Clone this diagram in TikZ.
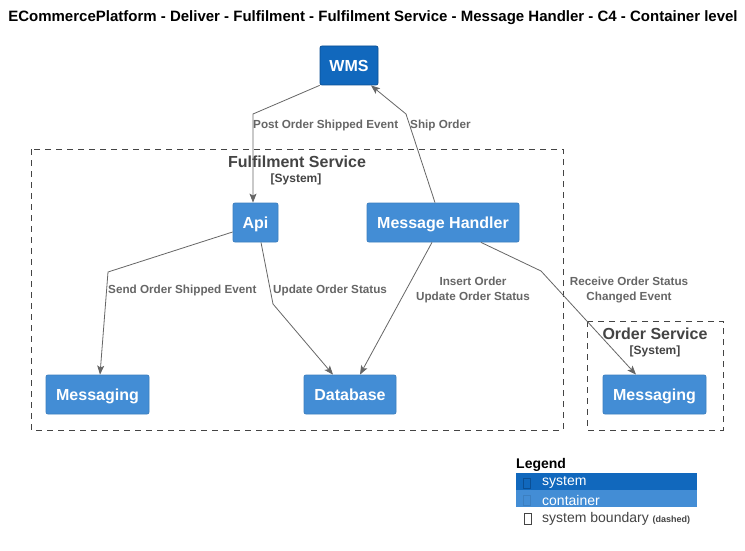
\documentclass[tikz,border=0pt]{standalone}
\usepackage{fontspec}
\setmainfont{Liberation Sans}
\usetikzlibrary{arrows.meta,calc}
\definecolor{sysblue}{HTML}{1168BD}
\definecolor{sysborder}{HTML}{0B4F94}
\definecolor{contblue}{HTML}{438DD5}
\definecolor{contborder}{HTML}{3C7FC0}
\definecolor{relgray}{HTML}{666666}
\definecolor{bndgray}{HTML}{444444}
\tikzset{
  elem/.style={rounded corners=2pt, inner sep=0pt, text=white,
    font=\bfseries\fontsize{16}{19}\selectfont, line width=0.8pt,
    text height=11.5pt, text depth=0pt},
  sysbox/.style={elem, fill=sysblue, draw=sysborder},
  contbox/.style={elem, fill=contblue, draw=contborder},
  bnd/.style={draw=bndgray, dash pattern=on 6pt off 5pt, line width=1pt},
  bndtitle/.style={text=bndgray, font=\bfseries\fontsize{16}{19}\selectfont, inner sep=0pt},
  bndsub/.style={text=bndgray, font=\bfseries\fontsize{12}{14}\selectfont, inner sep=0pt},
  rel/.style={draw=relgray, line width=0.8pt, -{Stealth[length=9pt,width=7pt,inset=2pt]}},
  rellabel/.style={text=relgray, font=\bfseries\fontsize{11.7}{15}\selectfont, inner sep=0pt, align=center},
  tofu/.style={draw, line width=0.6pt}
}
\begin{document}
\begin{tikzpicture}[x=1pt,y=-1pt]
\useasboundingbox (0,0) rectangle (745,551);
\fill[white] (0,0) rectangle (745,551);
% title
\node[font=\bfseries\fontsize{15}{18}\selectfont, inner sep=0pt] (title) at (373,18)
  {ECommercePlatform - Deliver - Fulfilment - Fulfilment Service - Message Handler - C4 - Container level};
% boundaries
\draw[bnd] (31,149) rectangle (563,430);
\node[bndtitle] (fst) at (297,162) {Fulfilment Service};
\node[bndsub] (fss) at (296,179.5) {[System]};
\draw[bnd] (587,321) rectangle (723,430);
\node[bndtitle] (ost) at (655,334) {Order Service};
\node[bndsub] (oss) at (655,351) {[System]};
% elements
\node[sysbox, minimum width=58pt, minimum height=39pt] (wms) at (349,65.5) {WMS};
\node[contbox, minimum width=45pt, minimum height=39pt] (api) at (255.5,222.5) {Api};
\node[contbox, minimum width=152pt, minimum height=39pt] (mh) at (443,222.5) {Message Handler};
\node[contbox, minimum width=103pt, minimum height=39pt] (msg1) at (97.5,394.5) {Messaging};
\node[contbox, minimum width=92pt, minimum height=39pt] (db) at (350,394.5) {Database};
\node[contbox, minimum width=103pt, minimum height=39pt] (msg2) at (654.5,394.5) {Messaging};
% bends
\coordinate (b1) at (253,114);
\coordinate (b2) at (406,114);
\coordinate (b3) at (108,272);
\coordinate (b4) at (273,304);
\coordinate (b6) at (541,271);
% relations
\draw[rel] (wms.south west) -- (b1) -- (b1 |- api.north);
\node[rellabel, anchor=west] (l1) at (253,125) {Post Order Shipped Event};
\draw[rel] ([xshift=-8pt]mh.north) -- (b2) -- ([xshift=22pt]wms.south);
\node[rellabel, anchor=west] (l2) at (410,125) {Ship Order};
\draw[rel] ([yshift=-9.5pt]api.west) -- (b3) -- ([xshift=2.5pt]msg1.north);
\node[rellabel, anchor=west] (l3) at (108,290) {Send Order Shipped Event};
\draw[rel] ([xshift=5.5pt]api.south) -- (b4) -- ([xshift=-17pt]db.north);
\node[rellabel, anchor=west] (l4) at (273,290) {Update Order Status};
\draw[rel] ([xshift=-11pt]mh.south) -- ([xshift=10pt]db.north);
\node[rellabel] (l5) at (473,289.5) {Insert Order\\Update Order Status};
\draw[rel] ([xshift=38pt]mh.south) -- (b6) -- ([xshift=-18.5pt]msg2.north);
\node[rellabel] (l6) at (629,289.5) {Receive Order Status\\Changed Event};
% legend
\node[font=\bfseries\fontsize{14}{16}\selectfont, anchor=west, inner sep=0pt] (lg) at (516,465) {Legend};
\fill[sysblue] (516,473) rectangle (697,490);
\fill[contblue] (516,490) rectangle (697,507);
\draw[tofu, draw=sysborder] (523,478) rectangle (530,488);
\draw[tofu, draw=contborder] (523,495) rectangle (530,505);
\draw[tofu, draw=bndgray] (524,513) rectangle (531,524);
\node[anchor=west, inner sep=0pt, text=white, font=\fontsize{14}{16}\selectfont] (lsys) at (542,482) {system};
\node[anchor=west, inner sep=0pt, text=white, font=\fontsize{14}{16}\selectfont] (lcont) at (542,500) {container};
\node[anchor=west, inner sep=0pt, text=bndgray, font=\fontsize{14}{16}\selectfont] (lbnd) at (542,519) {system boundary {\bfseries\fontsize{9}{10}\selectfont(dashed)}};
\end{tikzpicture}
\end{document}
